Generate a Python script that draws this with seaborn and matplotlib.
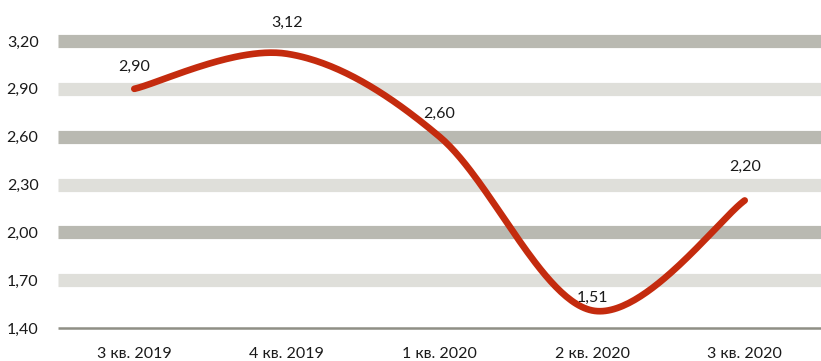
import numpy as np
import pandas as pd
import matplotlib
matplotlib.use("Agg")
import matplotlib.pyplot as plt
import seaborn as sns

QUARTERS = ["3 кв. 2019", "4 кв. 2019", "1 кв. 2020", "2 кв. 2020", "3 кв. 2020"]
VALUES = [2.90, 3.12, 2.60, 1.51, 2.20]
Y_TICKS = [1.40, 1.70, 2.00, 2.30, 2.60, 2.90, 3.20]

LINE_COLOR = "#c42b0e"
DARK_BAND = "#b9b9b1"
LIGHT_BAND = "#dfdfda"
BASE_COLOR = "#8f8f85"
TEXT_COLOR = "#1a1a1a"

# label offsets in points (above the point)
LABEL_OFFSETS = [11, 17, 11, 4, 19]


def smooth(xs, ys, n=60):
    # Bezier smoothing like the spreadsheet "smoothed line" option
    xs = np.asarray(xs, float)
    ys = np.asarray(ys, float)
    px = np.concatenate([[xs[0]], xs, [xs[-1]]])
    py = np.concatenate([[ys[0]], ys, [ys[-1]]])
    out_x, out_y = [], []
    t = np.linspace(0, 1, n)
    for i in range(1, len(px) - 2):
        p0 = np.array([px[i], py[i]])
        p3 = np.array([px[i + 1], py[i + 1]])
        c1 = p0 + (np.array([px[i + 1], py[i + 1]]) - np.array([px[i - 1], py[i - 1]])) / 6
        c2 = p3 - (np.array([px[i + 2], py[i + 2]]) - np.array([px[i], py[i]])) / 6
        bx = (1 - t) ** 3 * p0[0] + 3 * (1 - t) ** 2 * t * c1[0] + 3 * (1 - t) * t ** 2 * c2[0] + t ** 3 * p3[0]
        by = (1 - t) ** 3 * p0[1] + 3 * (1 - t) ** 2 * t * c1[1] + 3 * (1 - t) * t ** 2 * c2[1] + t ** 3 * p3[1]
        out_x.extend(bx)
        out_y.extend(by)
    return np.array(out_x), np.array(out_y)


def main():
    sns.set_theme(style="white")
    plt.rcParams["font.family"] = ["Lato", "DejaVu Sans"]

    fig = plt.figure(figsize=(8.21, 3.61), dpi=100)
    ax = fig.add_axes([58 / 821, 33 / 361, 1 - 58 / 821, (328 - 41) / 361])

    # thick horizontal bands as gridlines
    for i, yv in enumerate(Y_TICKS[1:]):
        col = LIGHT_BAND if i % 2 == 0 else DARK_BAND
        ax.axhline(yv, color=col, linewidth=9.5, zorder=1, clip_on=False,
                   solid_capstyle="butt")
    ax.axhline(Y_TICKS[0], color=BASE_COLOR, linewidth=1.8, zorder=1, clip_on=False,
               solid_capstyle="butt")

    sx, sy = smooth(range(len(VALUES)), VALUES)
    df = pd.DataFrame({"x": sx, "y": sy})
    sns.lineplot(data=df, x="x", y="y", sort=False, estimator=None, color=LINE_COLOR,
                 linewidth=4.8, ax=ax, zorder=3)
    ax.get_lines()[-1].set_solid_capstyle("round")
    ax.get_lines()[-1].set_clip_on(False)

    for i, v in enumerate(VALUES):
        ax.annotate(f"{v:.2f}".replace(".", ","), (i, v), xytext=(0, LABEL_OFFSETS[i]),
                    textcoords="offset points", ha="center", va="bottom",
                    fontsize=11.5, color=TEXT_COLOR, zorder=4)

    ax.set_xlim(-0.5, len(QUARTERS) - 0.5)
    ax.set_ylim(Y_TICKS[0], Y_TICKS[-1])
    ax.set_xticks(range(len(QUARTERS)))
    ax.set_xticklabels(QUARTERS)
    ax.set_yticks(Y_TICKS)
    ax.set_yticklabels([f"{v:.2f}".replace(".", ",") for v in Y_TICKS])
    ax.tick_params(axis="both", length=0, labelsize=11.5, colors=TEXT_COLOR)
    ax.tick_params(axis="x", pad=14)
    ax.tick_params(axis="y", pad=14)
    ax.set_xlabel("")
    ax.set_ylabel("")
    for s in ax.spines.values():
        s.set_visible(False)
    ax.patch.set_alpha(0)

    fig.savefig("out.png", dpi=100)
    plt.close(fig)


if __name__ == "__main__":
    main()
